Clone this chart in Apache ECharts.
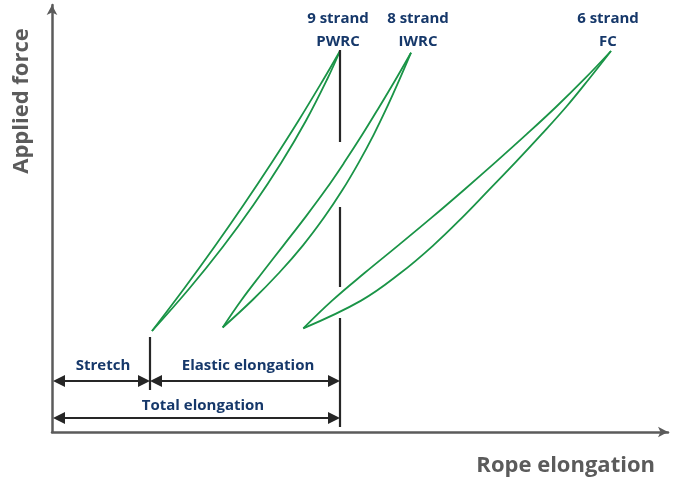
<!DOCTYPE html>
<html lang="en" style="height: 100%">

<head>
  <meta charset="utf-8" />
</head>

<body style="height: 100%; margin: 0; background: #fff">
  <div id="container" style="width: 676px; height: 479px"></div>

  <script type="text/javascript" src="https://cdn.jsdelivr.net/npm/echarts@6/dist/echarts.min.js"></script>

  <script type="text/javascript">
    // curve points (x = elongation, y = force, arbitrary units)
    var pwrcUnload = [[100, 101], [131.8, 143], [162.3, 185], [191.5, 227], [219.5, 269], [246.3, 311], [271.7, 353], [288, 381]];
    var pwrcLoad = [[100, 101], [136.9, 143], [170.7, 185], [201.4, 227], [229.1, 269], [253.8, 311], [275.3, 353], [288, 381]];
    var iwrcUnload = [[170.7, 104.5], [189.5, 132], [210.4, 159.5], [231.7, 186.9], [253, 214.4], [273.4, 241.9], [292.2, 269.4], [310, 296.9], [326.8, 324.3], [343.2, 351.8], [359, 379.3]];
    var iwrcLoad = [[170.7, 104.5], [200.5, 132], [227.4, 159.5], [251.2, 186.9], [272, 214.4], [290.4, 241.9], [306.7, 269.4], [321.5, 296.9], [334.8, 324.3], [347.2, 351.8], [359, 379.3]];
    var fcUnload = [[251.3, 103.7], [280.1, 131.4], [312.8, 159.2], [346.6, 186.9], [379.9, 214.6], [412.2, 242.3], [443.9, 270.1], [474.7, 297.8], [504.5, 325.5], [532.7, 353.3], [559, 381]];
    var fcLoad = [[251.3, 103.7], [309.1, 131.4], [348.8, 159.2], [381.6, 186.9], [410.4, 214.6], [437.2, 242.3], [463.9, 270.1], [489.7, 297.8], [514.5, 325.5], [537.2, 353.3], [559, 381]];

    // marker lines
    var totalGuide = [[[288, 382], [288, 290]], [[288, 225], [288, 145]], [[288, 114], [288, 5]]];
    var stretchGuide = [[[98, 95], [98, 42]]];
    // dimension arrows (ends sit at the arrowhead centres)
    var stretchArrow = [[7, 51], [92, 51]];
    var elasticArrow = [[104, 51], [282, 51]];
    var totalArrow = [[7, 14], [282, 14]];

    var green = "#1a9447";
    var navy = "#16386a";
    var axisGray = "#5b5b5b";

    var dom = document.getElementById("container");
    var myChart = echarts.init(dom, null, { renderer: "canvas" });

    function curve(data) {
      return {
        type: "line",
        data: data,
        smooth: 0.4,
        symbol: "none",
        lineStyle: { color: green, width: 1.8 },
        silent: true,
        z: 3,
      };
    }

    function segs(list, arrows) {
      return {
        type: "lines",
        coordinateSystem: "cartesian2d",
        polyline: false,
        symbol: arrows ? ["triangle", "triangle"] : ["none", "none"],
        symbolSize: 12,
        lineStyle: { color: "#262626", width: 2.2, opacity: 1 },
        data: list.map(function (c) { return { coords: c }; }),
        silent: true,
        z: 4,
      };
    }

    var labelFont = "bold 15px 'Open Sans'";
    var titleFont = "bold 22px 'Open Sans'";

    function label(x, y, text) {
      return {
        type: "text", x: x, y: y,
        style: { text: text, font: labelFont, fill: navy, align: "center", verticalAlign: "middle" },
      };
    }

    var option = {
      animation: false,
      grid: { left: 52, top: 5, right: 8, bottom: 47 },
      xAxis: {
        type: "value",
        min: 0,
        max: 616,
        axisLine: {
          show: true,
          symbol: ["none", "arrow"],
          symbolSize: [8, 10],
          lineStyle: { color: axisGray, width: 2.5 },
        },
        axisTick: { show: false },
        axisLabel: { show: false },
        splitLine: { show: false },
      },
      yAxis: {
        type: "value",
        min: 0,
        max: 427,
        axisLine: {
          show: true,
          symbol: ["none", "arrow"],
          symbolSize: [8, 10],
          lineStyle: { color: axisGray, width: 2.5 },
        },
        axisTick: { show: false },
        axisLabel: { show: false },
        splitLine: { show: false },
      },
      series: [
        curve(pwrcUnload),
        curve(pwrcLoad),
        curve(iwrcUnload),
        curve(iwrcLoad),
        curve(fcUnload),
        curve(fcLoad),
        segs(totalGuide, false),
        segs(stretchGuide, false),
        segs([stretchArrow, elasticArrow, totalArrow], true),
      ],
      graphic: [
        label(338, 19, "9 strand"),
        label(338, 42, "PWRC"),
        label(418, 19, "8 strand"),
        label(418, 42, "IWRC"),
        label(608, 19, "6 strand"),
        label(608, 42, "FC"),
        label(103, 366, "Stretch"),
        label(248, 366, "Elastic elongation"),
        label(203, 406, "Total elongation"),
        { type: "text", x: 655, y: 466, style: { text: "Rope elongation", font: titleFont, fill: axisGray, align: "right", verticalAlign: "middle" } },
        { type: "text", x: 22, y: 101, rotation: Math.PI / 2, style: { text: "Applied force", font: titleFont, fill: axisGray, align: "center", verticalAlign: "middle" } },
      ],
    };

    myChart.setOption(option);
    window.addEventListener("resize", myChart.resize);
  </script>
</body>

</html>
